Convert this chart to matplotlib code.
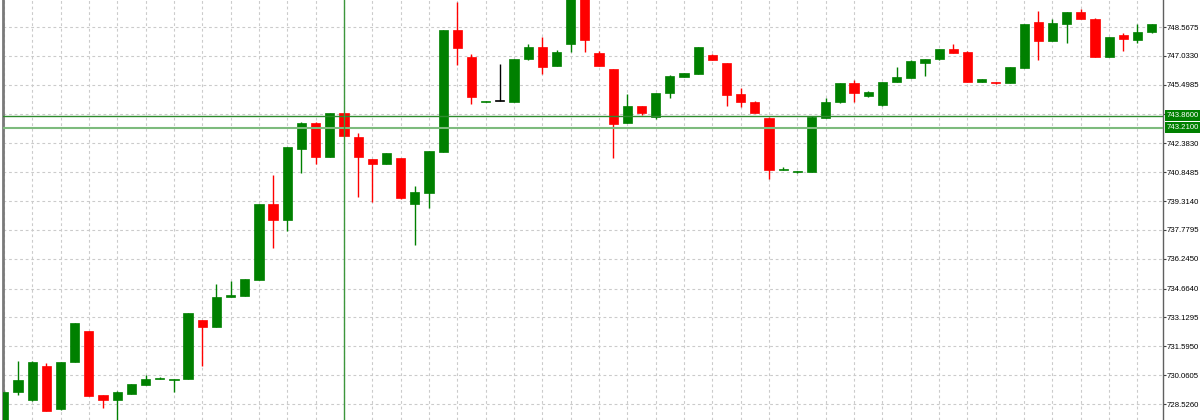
# imports
import matplotlib.pyplot as plt
import matplotlib.transforms as mtransforms
import numpy as np

# candle data, one value per bar
opens = [727.57, 729.16, 728.74, 730.56, 728.24, 730.76, 732.39, 729.00, 728.74, 729.06,
         729.54, 729.84, 729.82, 729.85, 732.99, 732.64, 734.20, 734.28, 735.12, 739.16,
         738.29, 742.07, 743.45, 741.67, 743.98, 742.70, 741.53, 741.30, 741.59, 739.14,
         739.76, 741.91, 748.41, 746.96, 744.60, 744.63, 744.60, 746.85, 747.50, 746.48,
         747.65, 750.27, 747.17, 746.32, 743.48, 744.38, 743.77, 745.04, 745.93, 746.07,
         747.08, 746.67, 745.02, 744.60, 743.71, 740.99, 740.86, 740.88, 743.75, 744.57,
         745.57, 744.88, 744.40, 745.64, 745.87, 746.67, 746.85, 747.40, 747.22, 745.64,
         745.64, 745.59, 746.39, 748.83, 747.84, 748.73, 749.38, 748.99, 746.99, 748.13,
         747.89, 748.29]
highs = [729.27, 730.81, 730.81, 730.68, 730.78, 732.83, 732.41, 729.00, 729.22, 729.59,
         730.07, 729.98, 729.88, 733.36, 732.99, 734.89, 735.07, 735.17, 739.16, 740.70,
         742.19, 743.53, 743.53, 743.99, 743.99, 742.92, 741.55, 741.87, 741.60, 740.12,
         741.98, 748.41, 749.91, 747.12, 744.64, 746.60, 746.89, 747.66, 748.05, 747.36,
         750.43, 750.27, 747.31, 746.34, 744.99, 744.39, 745.06, 746.02, 746.12, 747.53,
         747.11, 746.68, 745.34, 744.61, 743.78, 741.10, 740.91, 743.81, 744.78, 745.59,
         745.75, 745.14, 745.67, 746.43, 746.79, 746.89, 747.42, 747.66, 747.29, 745.81,
         745.67, 746.44, 748.75, 749.43, 748.99, 749.39, 749.51, 749.02, 748.04, 748.25,
         748.73, 748.75]
lows = [727.41, 729.00, 728.71, 728.15, 728.21, 730.76, 728.95, 728.31, 727.67, 729.06,
        729.54, 729.83, 729.18, 729.85, 730.55, 732.62, 734.19, 734.27, 735.12, 736.83,
        737.74, 740.79, 741.27, 741.67, 742.75, 739.55, 739.28, 741.28, 739.45, 736.98,
        738.96, 741.90, 746.55, 744.46, 744.59, 744.62, 744.58, 746.84, 746.07, 746.47,
        747.26, 747.26, 746.47, 741.62, 743.46, 743.89, 743.66, 744.78, 745.91, 746.07,
        746.79, 744.37, 744.33, 743.97, 740.49, 740.94, 740.83, 740.86, 743.73, 744.55,
        744.60, 744.87, 744.39, 745.63, 745.86, 745.96, 746.84, 747.16, 745.63, 745.63,
        745.56, 745.57, 746.37, 746.81, 747.82, 747.70, 748.98, 746.97, 746.97, 747.29,
        747.73, 748.23]
closes = [729.16, 729.80, 730.78, 728.17, 730.77, 732.82, 728.97, 728.74, 729.18, 729.57,
          729.84, 729.89, 729.87, 733.35, 732.64, 734.23, 734.32, 735.17, 739.16, 738.29,
          742.17, 743.48, 741.67, 743.98, 742.77, 741.67, 741.30, 741.85, 739.46, 739.78,
          741.96, 748.41, 747.43, 744.86, 744.63, 744.63, 746.88, 747.50, 746.46, 747.24,
          750.43, 747.88, 746.48, 743.41, 744.38, 743.98, 745.04, 745.96, 746.11, 747.52,
          746.81, 744.94, 744.56, 743.99, 740.97, 741.02, 740.90, 743.78, 744.60, 745.57,
          745.08, 745.13, 745.66, 745.89, 746.76, 746.88, 747.41, 747.19, 745.64, 745.80,
          745.59, 746.42, 748.73, 747.84, 748.78, 749.38, 748.99, 746.99, 748.02, 747.91,
          748.30, 748.73]

# price axis labels
tick_values = [748.5675, 747.0330, 745.4985, 743.9408, 742.3830, 740.8485, 739.3140,
               737.7795, 736.2450, 734.6640, 733.1295, 731.5950, 730.0605, 728.5260]
tick_labels = ['748.5675', '747.0330', '745.4985', '', '742.3830', '740.8485', '739.3140',
               '737.7795', '736.2450', '734.6640', '733.1295', '731.5950', '730.0605',
               '728.5260']

# horizontal price levels and the vertical marker bar
levels = [743.86, 743.21]
level_labels = ['743.8600', '743.2100']
marker_bar = 24

GREEN = '#008000'
RED = '#ff0000'


def draw_chart():
    fig = plt.figure(figsize=(12, 4.2), dpi=100)
    ax = fig.add_axes([3 / 1200, 0, 1160 / 1200, 1])
    ax.set_facecolor('white')

    o = np.array(opens)
    h = np.array(highs)
    l = np.array(lows)
    c = np.array(closes)
    x = np.arange(len(o))

    # colour per candle: up green, down red, flat black
    colors = np.where(c > o, GREEN, np.where(c < o, RED, 'black'))

    # wicks
    ax.vlines(x, l, h, colors=colors, linewidth=1, zorder=2)

    # bodies (keep at least one pixel for dojis)
    bottom = np.minimum(o, c)
    height = np.maximum(np.abs(c - o), 0.045)
    ax.bar(x, height, bottom=bottom, width=0.65, color=colors,
           edgecolor=colors, linewidth=0.5, zorder=3)

    # price lines and the vertical line
    ax.axhline(levels[0], color='#2e8b2e', linewidth=1, zorder=4)
    ax.axhline(levels[1], color='#7dbb7d', linewidth=1.5, zorder=4)
    ax.axvline(marker_bar, color='#3c963c', linewidth=1, zorder=4)

    # limits
    ax.set_xlim(-0.06, 81.8)
    ax.set_ylim(727.676, 750.003)

    # grid: every second bar, and at each price label
    ax.set_xticks(np.arange(0, len(o), 2))
    ax.set_yticks(tick_values)
    ax.set_yticklabels(tick_labels)
    ax.grid(True, color='#cbcbcb', linestyle=(0, (2.5, 2.5)), linewidth=0.8, zorder=0)
    ax.set_axisbelow(True)

    ax.yaxis.tick_right()
    ax.tick_params(axis='x', length=0, labelbottom=False)
    ax.tick_params(axis='y', length=2, width=0.8, color='#404040', pad=0.8,
                   labelsize=5.6, labelcolor='black')
    for t in ax.get_yticklabels():
        t.set_fontfamily('Liberation Sans')

    # spines
    ax.spines['top'].set_visible(False)
    ax.spines['bottom'].set_visible(False)
    ax.spines['left'].set_color('#7a7a7a')
    ax.spines['left'].set_linewidth(2)
    ax.spines['right'].set_color('#606060')
    ax.spines['right'].set_linewidth(1)

    # green boxes for the price lines on the axis
    trans = mtransforms.blended_transform_factory(ax.transAxes, ax.transData)
    for lv, lab in zip(levels, level_labels):
        ax.text(1.003, lv, lab, transform=trans, ha='left', va='center',
                fontsize=5.6, family='Liberation Sans', color='white', clip_on=False,
                bbox=dict(boxstyle='square,pad=0.25', fc=GREEN, ec='none'), zorder=6)

    fig.savefig('out.png', dpi=100)


if __name__ == "__main__":
    draw_chart()
